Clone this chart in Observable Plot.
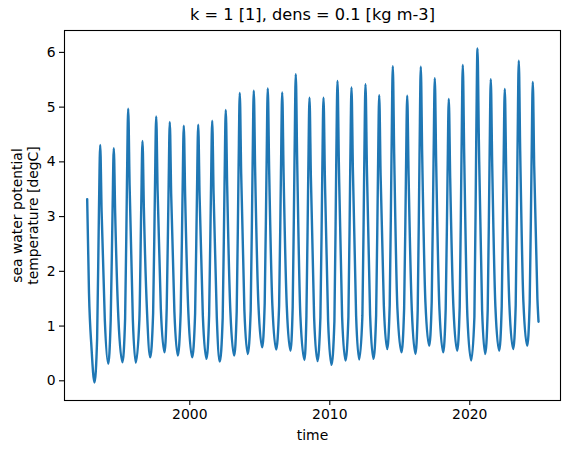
<!DOCTYPE html>
<html>
<head>
<meta charset="utf-8">
<script src="https://cdn.jsdelivr.net/npm/d3@7"></script>
<script src="https://cdn.jsdelivr.net/npm/@observablehq/plot@0.6"></script>
<style>
  html, body { margin: 0; padding: 0; background: white; }
</style>
</head>
<body>
<div id="chart"></div>
<script>
// ---- Data (decimal years, degC) ----
const titleText = "k = 1 [1], dens = 0.1 [kg m-3]";
const yLabel = "sea water potential\ntemperature [degC]";
const xLabel = "time";
const xTicks = [2000, 2010, 2020];
const yTicks = [0, 1, 2, 3, 4, 5, 6];

// start of the record and its end
const leadTime = [1992.67, 1992.80, 1992.98];
const leadTemp = [3.32, 1.60, 0.60];
const tailTime = [2024.91];
const tailTemp = [1.08];

// winter minima
const troughTime = [1993.19, 1994.17, 1995.19, 1996.14, 1997.17, 1998.19, 1999.14, 2000.17,
  2001.19, 2002.14, 2003.17, 2004.14, 2005.17, 2006.17, 2007.19, 2008.19, 2009.12, 2010.12,
  2011.12, 2012.10, 2013.12, 2014.10, 2015.12, 2016.12, 2017.10, 2018.10, 2019.10, 2020.10,
  2021.10, 2022.10, 2023.10, 2024.10];
const troughTemp = [-0.03, 0.31, 0.34, 0.33, 0.43, 0.52, 0.46, 0.43, 0.40, 0.35, 0.46, 0.49,
  0.61, 0.57, 0.55, 0.38, 0.36, 0.29, 0.37, 0.39, 0.40, 0.58, 0.52, 0.49, 0.64, 0.52, 0.55,
  0.37, 0.49, 0.55, 0.58, 0.64];

// spring warming: leaving the winter floor
const riseLowTime = [1993.38, 1994.35, 1995.38, 1996.40, 1997.38, 1998.35, 1999.35, 2000.38,
  2001.38, 2002.35, 2003.35, 2004.35, 2005.35, 2006.38, 2007.35, 2008.33, 2009.33, 2010.33,
  2011.33, 2012.33, 2013.31, 2014.28, 2015.31, 2016.28, 2017.28, 2018.28, 2019.28, 2020.33,
  2021.28, 2022.28, 2023.28, 2024.28];
const riseLowTemp = [0.77, 1.11, 1.14, 1.13, 1.23, 1.32, 1.26, 1.23, 1.20, 1.15, 1.26, 1.29,
  1.41, 1.37, 1.35, 1.18, 1.16, 1.09, 1.17, 1.19, 1.20, 1.38, 1.32, 1.29, 1.44, 1.32, 1.35,
  1.17, 1.29, 1.35, 1.38, 1.44];

// steep rise just before the summer peak
const riseHighTime = [1993.51, 1994.48, 1995.51, 1996.53, 1997.51, 1998.48, 1999.48, 2000.51,
  2001.51, 2002.48, 2003.48, 2004.48, 2005.48, 2006.51, 2007.48, 2008.46, 2009.46, 2010.46,
  2011.46, 2012.46, 2013.44, 2014.41, 2015.44, 2016.41, 2017.41, 2018.41, 2019.41, 2020.46,
  2021.41, 2022.41, 2023.41, 2024.41];
const riseHighTemp = [3.10, 3.06, 3.58, 3.15, 3.48, 3.41, 3.36, 3.37, 3.42, 3.56, 3.79, 3.82,
  3.84, 3.79, 4.03, 3.72, 3.72, 3.95, 3.86, 3.90, 3.76, 4.14, 3.75, 4.13, 3.98, 3.71, 4.15,
  4.37, 3.97, 3.84, 4.21, 3.93];

// summer maxima
const peakTime = [1993.60, 1994.57, 1995.60, 1996.62, 1997.60, 1998.57, 1999.57, 2000.60,
  2001.60, 2002.57, 2003.57, 2004.57, 2005.57, 2006.60, 2007.57, 2008.55, 2009.55, 2010.55,
  2011.55, 2012.55, 2013.53, 2014.50, 2015.53, 2016.50, 2017.50, 2018.50, 2019.50, 2020.55,
  2021.50, 2022.50, 2023.50, 2024.50];
const peakTemp = [4.31, 4.25, 4.97, 4.38, 4.83, 4.73, 4.66, 4.68, 4.75, 4.95, 5.26, 5.30,
  5.34, 5.27, 5.60, 5.17, 5.17, 5.48, 5.36, 5.42, 5.22, 5.75, 5.21, 5.74, 5.53, 5.15, 5.77,
  6.07, 5.51, 5.33, 5.85, 5.46];

// autumn cooling just after the peak
const fallHighTime = [1993.70, 1994.67, 1995.70, 1996.72, 1997.70, 1998.67, 1999.67, 2000.70,
  2001.70, 2002.67, 2003.67, 2004.67, 2005.67, 2006.70, 2007.67, 2008.65, 2009.65, 2010.65,
  2011.65, 2012.65, 2013.63, 2014.60, 2015.63, 2016.60, 2017.60, 2018.60, 2019.60, 2020.65,
  2021.60, 2022.60, 2023.60, 2024.60];
const fallHighTemp = [3.10, 3.06, 3.58, 3.15, 3.48, 3.41, 3.36, 3.37, 3.42, 3.56, 3.79, 3.82,
  3.84, 3.79, 4.03, 3.72, 3.72, 3.95, 3.86, 3.90, 3.76, 4.14, 3.75, 4.13, 3.98, 3.71, 4.15,
  4.37, 3.97, 3.84, 4.21, 3.93];

// late autumn, approaching the winter floor
const fallLowTime = [1993.93, 1994.90, 1995.93, 1996.95, 1997.93, 1998.90, 1999.90, 2000.93,
  2001.93, 2002.90, 2003.90, 2004.90, 2005.90, 2006.93, 2007.90, 2008.88, 2009.88, 2010.88,
  2011.88, 2012.88, 2013.86, 2014.83, 2015.86, 2016.83, 2017.83, 2018.83, 2019.83, 2020.88,
  2021.83, 2022.83, 2023.83, 2024.83];
const fallLowTemp = [1.11, 1.14, 1.13, 1.23, 1.32, 1.26, 1.23, 1.20, 1.15, 1.26, 1.29, 1.41,
  1.37, 1.35, 1.18, 1.16, 1.09, 1.17, 1.19, 1.20, 1.38, 1.32, 1.29, 1.44, 1.32, 1.35, 1.17,
  1.29, 1.35, 1.38, 1.44, 1.50];

// ---- Build the table ----
const rows = [];
function add(ts, vs) { ts.forEach((t, i) => rows.push({time: t, temp: vs[i]})); }
add(leadTime, leadTemp);
add(troughTime, troughTemp);
add(riseLowTime, riseLowTemp);
add(riseHighTime, riseHighTemp);
add(peakTime, peakTemp);
add(fallHighTime, fallHighTemp);
add(fallLowTime, fallLowTemp);
add(tailTime, tailTemp);
rows.sort((a, b) => a.time - b.time);

const chart = Plot.plot({
  width: 570,
  height: 453,
  marginLeft: 64,
  marginRight: 10,
  marginTop: 30,
  marginBottom: 53,
  style: {fontFamily: "DejaVu Sans", fontSize: "13.9px", color: "#000", background: "white"},
  x: {domain: [1991.05, 2026.48]},
  y: {domain: [-0.36, 6.40]},
  marks: [
    Plot.line(rows, {x: "time", y: "temp", stroke: "#1f77b4", strokeWidth: 2.4, curve: "monotone-x"}),
    Plot.frame({stroke: "#000", strokeWidth: 1.1}),
    Plot.axisX({ticks: xTicks, tickFormat: d => String(d), tickSize: 5, tickPadding: 4, strokeWidth: 1.1, label: null, fontSize: 13.9}),
    Plot.axisY({ticks: yTicks, tickFormat: d => String(d), tickSize: 5, tickPadding: 4, strokeWidth: 1.1, label: null, fontSize: 13.9}),
    Plot.text([titleText], {text: d => d, frameAnchor: "top", dy: -16, fontSize: 16.2, lineAnchor: "middle"}),
    Plot.text([xLabel], {text: d => d, frameAnchor: "bottom", dy: 35, fontSize: 13.9, lineAnchor: "middle"}),
    Plot.text([yLabel], {text: d => d, frameAnchor: "left", dx: -40, rotate: -90, fontSize: 13.9, lineHeight: 1.15, lineAnchor: "middle", textAnchor: "middle"})
  ]
});
document.getElementById("chart").appendChild(chart);
</script>
</body>
</html>
